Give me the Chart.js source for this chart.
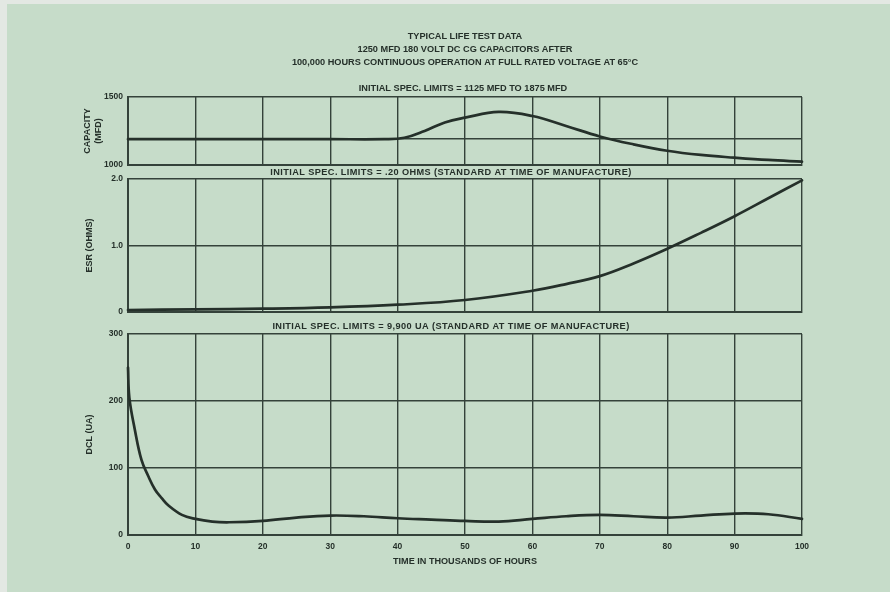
<!DOCTYPE html>
<html><head><meta charset="utf-8">
<script src="https://cdn.jsdelivr.net/npm/chart.js@4"></script>
<style>
html,body{margin:0;padding:0;background:#e3e8e3;}
#wrap{position:relative;width:890px;height:592px;overflow:hidden;background:#e3e8e3;}
#bg{position:absolute;left:7px;top:4px;right:0;bottom:0;background:#c6dcc9;}
canvas{position:absolute;left:0;top:0;}
</style></head><body>
<div id="wrap"><div id="bg"></div>
<canvas id="c1" width="890" height="592"></canvas>
<canvas id="c2" width="890" height="592"></canvas>
<canvas id="c3" width="890" height="592"></canvas>
</div>
<script>
// ---- text ----
const mainTitle = ['TYPICAL LIFE TEST DATA', '1250 MFD 180 VOLT DC CG CAPACITORS AFTER', '100,000 HOURS CONTINUOUS OPERATION AT FULL RATED VOLTAGE AT 65°C'];
const capCaption = 'INITIAL SPEC. LIMITS = 1125 MFD TO 1875 MFD';
const esrCaption = 'INITIAL SPEC. LIMITS = .20 OHMS (STANDARD AT TIME OF MANUFACTURE)';
const dclCaption = 'INITIAL SPEC. LIMITS = 9,900 UA (STANDARD AT TIME OF MANUFACTURE)';
const xAxisTitle = 'TIME IN THOUSANDS OF HOURS';

// ---- x axis ticks ----
const timeTicks = [0, 10, 20, 30, 40, 50, 60, 70, 80, 90, 100];
const timeLabels = ['0', '10', '20', '30', '40', '50', '60', '70', '80', '90', '100'];

// ---- capacity (MFD) ----
const capTicks = [1000, 1190, 1500];
const capTickLabels = ['1000', '', '1500'];
const capX = [0, 10, 20, 30, 38, 41, 44, 47, 50, 55, 60, 65, 70, 75, 80, 85, 90, 95, 100];
const capY = [1190, 1190, 1190, 1190, 1190, 1200, 1250, 1313, 1348, 1390, 1360, 1287, 1210, 1152, 1105, 1074, 1054, 1037, 1025];

// ---- ESR (ohms) ----
const esrTicks = [0, 1, 2];
const esrTickLabels = ['0', '1.0', '2.0'];
const esrX = [0, 10, 20, 30, 40, 50, 60, 65, 70, 75, 80, 85, 90, 95, 100];
const esrY = [0.03, 0.04, 0.05, 0.07, 0.11, 0.18, 0.32, 0.42, 0.54, 0.73, 0.95, 1.19, 1.44, 1.71, 1.98];

// ---- DCL (uA) ----
const dclTicks = [0, 100, 200, 300];
const dclTickLabels = ['0', '100', '200', '300'];
const dclX = [0, 0.2, 1, 2, 3, 4, 5, 6, 8, 10, 12.5, 15, 20, 25, 30, 35, 40, 45, 50, 55, 60, 65, 70, 75, 80, 85, 90, 95, 100];
const dclY = [250, 205, 158, 112, 88, 68, 55, 44, 30, 24, 20, 19, 21, 26, 29, 28, 25, 23, 21, 20, 24, 28, 30, 28, 26, 29, 32, 31, 24];

const FONT = "'Liberation Sans', Arial, Helvetica, sans-serif";
const INK = '#25302a';
const GRID = '#34423a';

const captionPlugin = {
  id: 'caption',
  afterDraw(chart, args, opts) {
    const ca = chart.chartArea, ctx = chart.ctx;
    ctx.save();
    ctx.font = 'bold 9.2px ' + FONT;
    if ('letterSpacing' in ctx) ctx.letterSpacing = opts.spacing + 'px';
    ctx.fillStyle = INK;
    ctx.textAlign = 'center';
    ctx.textBaseline = 'middle';
    ctx.fillText(opts.text, (ca.left + ca.right) / 2 + opts.dx, ca.top - opts.dy);
    ctx.restore();
  }
};

function makeChart(id, cfg) {
  const pts = cfg.xs.map((x, i) => ({ x: x, y: cfg.ys[i] }));
  return new Chart(document.getElementById(id), {
    type: 'line',
    data: { datasets: [{ data: pts, borderColor: INK, borderWidth: 2.7, pointRadius: 0, fill: false,
      tension: cfg.tension, clip: false, borderJoinStyle: 'round', borderCapStyle: 'round' }] },
    plugins: [captionPlugin],
    options: {
      responsive: false, animation: false, events: [],
      layout: { padding: cfg.padding },
      plugins: {
        legend: { display: false }, tooltip: { enabled: false },
        title: cfg.title || { display: false },
        caption: cfg.caption
      },
      scales: {
        x: {
          type: 'linear', min: 0, max: 100,
          afterBuildTicks: s => { s.ticks = timeTicks.map(v => ({ value: v })); },
          afterFit: s => { s.paddingLeft = 0; s.paddingRight = 0; },
          grid: { color: GRID, lineWidth: 1.4, drawTicks: false },
          border: { display: true, color: GRID, width: 2 },
          ticks: { display: cfg.showX, padding: 7, color: INK,
            font: { family: FONT, size: 8.5, weight: 'bold', lineHeight: '10px' },
            callback: (v, i) => timeLabels[i] },
          title: { display: cfg.showX, text: xAxisTitle, color: INK, padding: { top: 0, bottom: 0 },
            font: { family: FONT, size: 9.1, weight: 'bold', lineHeight: '5px' } }
        },
        y: {
          type: 'linear', min: cfg.yMin, max: cfg.yMax,
          afterBuildTicks: s => { s.ticks = cfg.yTicks.map(v => ({ value: v })); },
          afterFit: s => { s.width = cfg.yWidth; s.paddingTop = 0; s.paddingBottom = 0; },
          grid: { color: GRID, lineWidth: 1.4, drawTicks: false },
          border: { display: true, color: GRID, width: 2 },
          ticks: { padding: 5, color: INK, font: { family: FONT, size: 8.5, weight: 'bold' },
            callback: (v, i) => cfg.yTickLabels[i] },
          title: { display: true, text: cfg.yTitle, color: INK, padding: 0,
            font: { family: FONT, size: 9, weight: 'bold', lineHeight: '11px' } }
        }
      }
    }
  });
}

makeChart('c1', {
  xs: capX, ys: capY, yMin: 1000, yMax: 1500, yTicks: capTicks, yTickLabels: capTickLabels,
  yTitle: ['CAPACITY', '(MFD)'], yWidth: 45.5, showX: false, tension: 0.4,
  padding: { top: 25, left: 82.5, right: 88, bottom: 427 },
  title: { display: true, text: mainTitle, color: INK, fullSize: false, align: 'center',
    padding: { top: 4.5, bottom: 28.5 },
    font: { family: FONT, size: 9.2, weight: 'bold', lineHeight: '13px' } },
  caption: { text: capCaption, dx: -2, dy: 8.7, spacing: 0 }
});

makeChart('c2', {
  xs: esrX, ys: esrY, yMin: 0, yMax: 2, yTicks: esrTicks, yTickLabels: esrTickLabels,
  yTitle: 'ESR (OHMS)', yWidth: 44, showX: false, tension: 0.4,
  padding: { top: 179, left: 84, right: 88, bottom: 280 },
  caption: { text: esrCaption, dx: -14, dy: 6.6, spacing: 0.4 }
});

makeChart('c3', {
  xs: dclX, ys: dclY, yMin: 0, yMax: 300, yTicks: dclTicks, yTickLabels: dclTickLabels,
  yTitle: 'DCL (UA)', yWidth: 44, showX: true, tension: 0.4,
  padding: { top: 334, left: 84, right: 88, bottom: 28 },
  caption: { text: dclCaption, dx: -14, dy: 7.5, spacing: 0.4 }
});
</script>
</body></html>
